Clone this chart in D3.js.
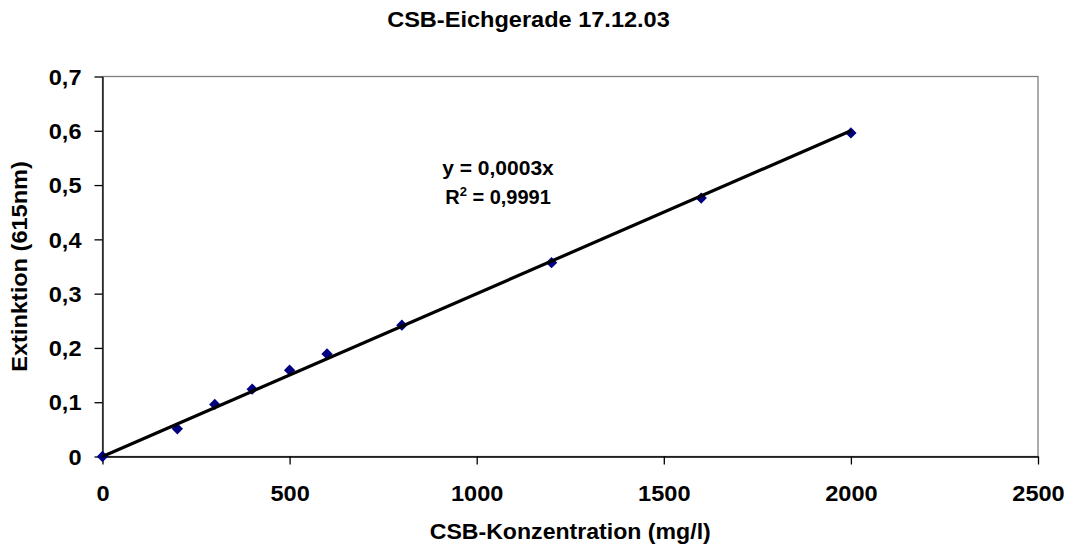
<!DOCTYPE html>
<html>
<head>
<meta charset="utf-8">
<script src="https://cdn.jsdelivr.net/npm/d3@7"></script>
<style>
  html, body { margin: 0; padding: 0; background: #fff; }
  svg { display: block; font-family: Arial, "Liberation Sans", sans-serif; font-weight: bold; }
</style>
</head>
<body>
<svg id="chart" width="1069" height="552"></svg>
<script>
// Calibration measurements: CSB concentration vs. extinction at 615 nm
const concentrations = [0, 200, 300, 400, 500, 600, 800, 1200, 1600, 2000];
const extinctions = [0, 0.051, 0.096, 0.124, 0.159, 0.189, 0.242, 0.357, 0.476, 0.596];

// Linear fit through the origin, as stated in the equation label
const trendSlope = 0.0003;
const rSquared = "0,9991";

const xTicks = [0, 500, 1000, 1500, 2000, 2500];
const yTicks = [0, 0.1, 0.2, 0.3, 0.4, 0.5, 0.6, 0.7];

const titleText = "CSB-Eichgerade 17.12.03";
const xLabelText = "CSB-Konzentration (mg/l)";
const yLabelText = "Extinktion (615nm)";

const svg = d3.select("#chart");
const plot = { left: 102.5, right: 1038, top: 76.5, bottom: 456.5 };

const x = d3.scaleLinear().domain([0, 2500]).range([plot.left, plot.right]);
const y = d3.scaleLinear().domain([0, 0.7]).range([plot.bottom, plot.top]);

const FONT = 22;
// widen bold glyphs slightly along the baseline
function stretch(sel, factor) {
  sel.each(function () {
    const len = this.getComputedTextLength();
    d3.select(this).attr("textLength", len * factor).attr("lengthAdjust", "spacingAndGlyphs");
  });
}

// plot area frame
svg.append("rect")
  .attr("x", plot.left).attr("y", plot.top)
  .attr("width", plot.right - plot.left).attr("height", plot.bottom - plot.top)
  .attr("fill", "none").attr("stroke", "#808080").attr("stroke-width", 1.3);

// axes
const fmtY = d => d === 0 ? "0" : d3.format(".1f")(d).replace(".", ",");

const xAxis = svg.append("g")
  .attr("transform", `translate(0,${plot.bottom})`)
  .call(d3.axisBottom(x).tickValues(xTicks).tickFormat(d3.format("d")).tickSize(8).tickSizeOuter(0).tickPadding(21));
const yAxis = svg.append("g")
  .attr("transform", `translate(${plot.left},0)`)
  .call(d3.axisLeft(y).tickValues(yTicks).tickFormat(fmtY).tickSize(8).tickSizeOuter(0).tickPadding(13));

[xAxis, yAxis].forEach(g => {
  g.select(".domain").attr("stroke", "#000").attr("stroke-width", 1.3);
  g.selectAll(".tick line").attr("stroke", "#000").attr("stroke-width", 1.3);
  g.selectAll(".tick text")
    .attr("font-size", FONT).attr("font-weight", "bold")
    .attr("font-family", "Arial, 'Liberation Sans', sans-serif").attr("fill", "#000");
});
xAxis.selectAll(".tick text").attr("dy", "0.71em").call(stretch, 1.07);
yAxis.selectAll(".tick text").attr("dy", "0.35em").call(stretch, 1.07);

// data markers (navy diamonds)
const diamond = d3.symbol().type(d3.symbolSquare).size(64);
svg.append("g").selectAll("path")
  .data(concentrations.map((c, i) => [c, extinctions[i]]))
  .join("path")
  .attr("d", diamond)
  .attr("transform", d => `translate(${x(d[0])},${y(d[1])}) rotate(45)`)
  .attr("fill", "#000080");

// linear trend line across the measured range
const trendX = d3.extent(concentrations);
svg.append("path")
  .datum(trendX.map(c => [c, c * trendSlope]))
  .attr("d", d3.line().x(d => x(d[0])).y(d => y(d[1])))
  .attr("fill", "none").attr("stroke", "#000").attr("stroke-width", 3.2);

// equation label
const eq = svg.append("text")
  .attr("x", 498).attr("y", 174.5).attr("text-anchor", "middle")
  .attr("font-size", 20).text("y = 0,0003x");
stretch(eq, 1.05);
const r2 = svg.append("text")
  .attr("x", 498).attr("y", 204).attr("text-anchor", "middle")
  .attr("font-size", 20);
r2.append("tspan").text("R");
r2.append("tspan").attr("font-size", 13).attr("dy", -8).text("2");
r2.append("tspan").attr("dy", 8).text(" = " + rSquared);

// titles
svg.append("text")
  .attr("x", 528.5).attr("y", 27).attr("text-anchor", "middle")
  .attr("font-size", FONT).text(titleText).call(stretch, 1.07);

svg.append("text")
  .attr("x", (plot.left + plot.right) / 2).attr("y", 539).attr("text-anchor", "middle")
  .attr("font-size", FONT).text(xLabelText).call(stretch, 1.05);

svg.append("text")
  .attr("transform", `translate(27,${(plot.top + plot.bottom) / 2}) rotate(-90)`)
  .attr("text-anchor", "middle")
  .attr("font-size", FONT).text(yLabelText).call(stretch, 1.07);
</script>
</body>
</html>
